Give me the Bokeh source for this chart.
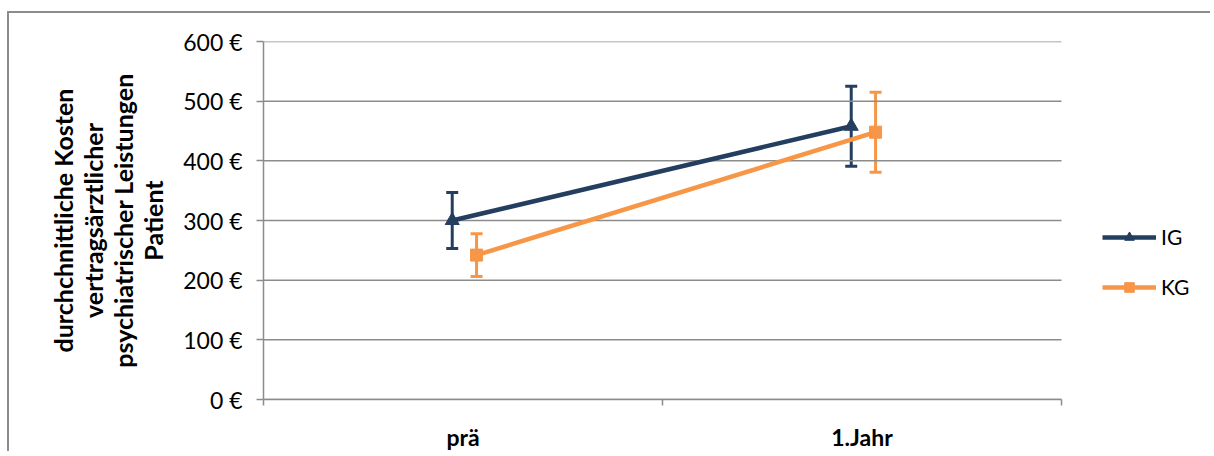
from bokeh.plotting import figure
from bokeh.models import (Range1d, FixedTicker, PrintfTickFormatter, Whisker, TeeHead,
                          ColumnDataSource, Legend, LegendItem)
from bokeh.embed import file_html
from bokeh.resources import INLINE

categories = ["prä", "1.Jahr"]
ig_mean = [300, 458]
ig_err = [47, 67]
kg_mean = [242, 448]
kg_err = [36, 67]
y_ticks = [0, 100, 200, 300, 400, 500, 600]

NAVY = "#243E5F"
ORANGE = "#F79646"
GRID = "#8c8c8c"
FONT = "Lato"

n = len(categories)
centers = [i + 0.5 for i in range(n)]
ig_off, kg_off = -0.027, 0.034

src_ig = ColumnDataSource(dict(
    x=[c + ig_off for c in centers], y=ig_mean,
    lo=[m - e for m, e in zip(ig_mean, ig_err)], hi=[m + e for m, e in zip(ig_mean, ig_err)]))
src_kg = ColumnDataSource(dict(
    x=[c + kg_off for c in centers], y=kg_mean,
    lo=[m - e for m, e in zip(kg_mean, kg_err)], hi=[m + e for m, e in zip(kg_mean, kg_err)]))

W, H = 1203, 440
LEFT, TOP, BOTTOM = 254, 28, 54
AXIS_W = 798  # pixel width of the category area
x_end = n * (W - LEFT) / AXIS_W  # frame continues to the right to host the legend

p = figure(width=W, height=H, output_backend="svg", toolbar_location=None,
           x_range=Range1d(0, x_end), y_range=Range1d(0, 600),
           min_border_left=LEFT, min_border_right=0, min_border_top=TOP,
           min_border_bottom=BOTTOM)
p.styles = {"border-left": "2px solid #8c8c8c", "border-top": "2px solid #8c8c8c",
            "margin-top": "11px", "margin-left": "7px", "margin-bottom": "-8px"}
p.outline_line_color = None
p.background_fill_color = "white"
p.border_fill_color = "white"

# horizontal gridlines limited to the category area
p.segment(x0=[0] * len(y_ticks), x1=[n] * len(y_ticks), y0=y_ticks, y1=y_ticks,
          line_color=GRID, line_width=1.5)
p.xgrid.grid_line_color = None
p.ygrid.grid_line_color = None

# axes
p.xaxis.bounds = (0, n)
p.xaxis.ticker = FixedTicker(ticks=centers, minor_ticks=list(range(n + 1)))
p.xaxis.major_label_overrides = {c: lab for c, lab in zip(centers, categories)}
p.xaxis.major_tick_out = 0
p.xaxis.major_tick_in = 0
p.xaxis.minor_tick_out = 6
p.xaxis.minor_tick_in = 0
p.xaxis.minor_tick_line_color = GRID
p.xaxis.minor_tick_line_width = 1.5
p.xaxis.axis_line_color = GRID
p.xaxis.axis_line_width = 1.5
p.xaxis.major_label_text_font = FONT
p.xaxis.major_label_text_font_style = "bold"
p.xaxis.major_label_text_font_size = "23px"
p.xaxis.major_label_text_color = "black"
p.xaxis.major_label_standoff = 17

p.yaxis.ticker = FixedTicker(ticks=y_ticks)
p.yaxis.formatter = PrintfTickFormatter(format="%d €")
p.yaxis.major_tick_out = 7
p.yaxis.major_tick_in = 0
p.yaxis.minor_tick_line_color = None
p.yaxis.major_tick_line_color = GRID
p.yaxis.major_tick_line_width = 1.5
p.yaxis.axis_line_color = GRID
p.yaxis.axis_line_width = 1.5
p.yaxis.major_label_text_font = FONT
p.yaxis.major_label_text_font_size = "23px"
p.yaxis.major_label_text_color = "black"
p.yaxis.major_label_standoff = 14
p.yaxis.axis_label = "durchchnittliche Kosten\nvertragsärztlicher\npsychiatrischer Leistungen\nPatient"
p.yaxis.axis_label_text_font = FONT
p.yaxis.axis_label_text_font_style = "bold"
p.yaxis.axis_label_text_font_size = "25px"
p.yaxis.axis_label_text_color = "black"
p.yaxis.axis_label_text_line_height = 1.0
p.yaxis.axis_label_standoff = 12

# error bars
for src, col in ((src_ig, NAVY), (src_kg, ORANGE)):
    w = Whisker(base="x", lower="lo", upper="hi", source=src, dimension="height",
                line_color=col, line_width=3,
                upper_head=TeeHead(size=12, line_color=col, line_width=3),
                lower_head=TeeHead(size=12, line_color=col, line_width=3))
    p.add_layout(w)

l_ig = p.line("x", "y", source=src_ig, line_color=NAVY, line_width=4.5)
m_ig = p.scatter("x", "y", source=src_ig, marker="triangle", size=14,
                 fill_color=NAVY, line_color=NAVY)
l_kg = p.line("x", "y", source=src_kg, line_color=ORANGE, line_width=4.5)
m_kg = p.scatter("x", "y", source=src_kg, marker="square", size=12,
                 fill_color=ORANGE, line_color=ORANGE)

legend = Legend(items=[LegendItem(label="IG", renderers=[l_ig, m_ig]),
                       LegendItem(label="KG", renderers=[l_kg, m_kg])],
                location=(AXIS_W + 41, 100), orientation="vertical",
                padding=0, margin=0, spacing=25, glyph_width=54, glyph_height=24,
                label_height=24, label_standoff=5,
                label_text_font=FONT, label_text_font_size="21px", label_text_color="black",
                border_line_color=None, background_fill_alpha=0)
p.add_layout(legend)

open("out.html", "w").write(file_html(p, INLINE))
